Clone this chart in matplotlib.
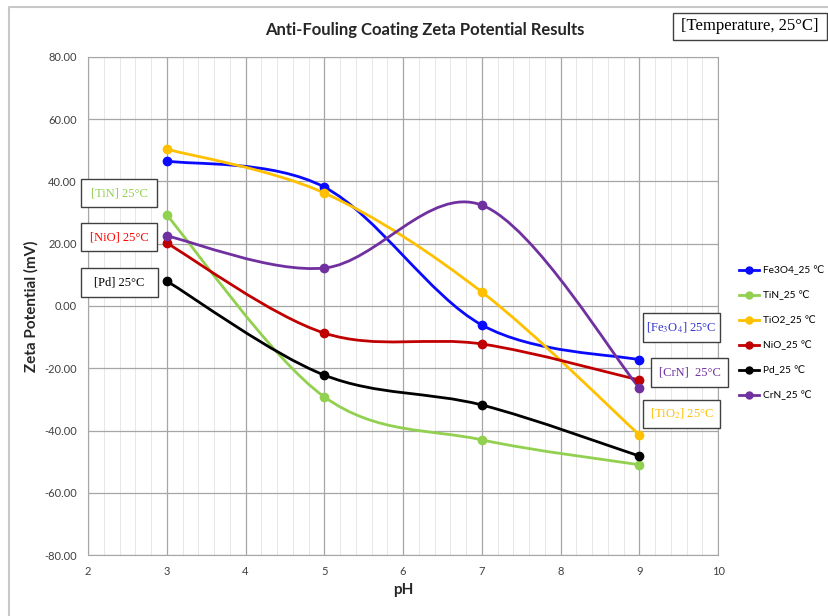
import matplotlib.pyplot as plt
import numpy as np
from matplotlib.path import Path
from matplotlib.patches import PathPatch, Rectangle
from matplotlib.lines import Line2D

# data
ph = [3, 5, 7, 9]
fe3o4 = [46.6, 38.2, -6.1, -17.3]
tin = [29.2, -29.2, -43.0, -51.0]
tio2 = [50.4, 36.3, 4.5, -41.4]
nio = [20.2, -8.7, -12.2, -23.8]
pd_ = [8.0, -22.2, -31.8, -48.2]
crn = [22.5, 12.2, 32.4, -26.3]

names = ['Fe3O4_25 ℃', 'TiN_25 ℃', 'TiO2_25 ℃', 'NiO_25 ℃', 'Pd_25 ℃', 'CrN_25 ℃']
series = [fe3o4, tin, tio2, nio, pd_, crn]
colors = ['#0a0aff', '#92d050', '#ffc000', '#c00000', '#000000', '#7030a0']


def smooth_path(x, y):
    # Excel-like smoothed line: cubic bezier through the points
    p = np.column_stack([x, y]).astype(float)
    n = len(p)
    verts = [p[0]]
    codes = [Path.MOVETO]
    for i in range(n - 1):
        p0 = p[i - 1] if i > 0 else p[i]
        p1 = p[i]
        p2 = p[i + 1]
        p3 = p[i + 2] if i + 2 < n else p[i + 1]
        c1 = p1 + (p2 - p0) / 6.0
        c2 = p2 - (p3 - p1) / 6.0
        verts += [c1, c2, p2]
        codes += [Path.CURVE4] * 3
    return Path(verts, codes)


plt.rcParams['font.family'] = ['Lato', 'DejaVu Sans']
plt.rcParams['mathtext.fontset'] = 'stix'

W, H = 829, 616
fig = plt.figure(figsize=(W / 100, H / 100), dpi=100)
ax = fig.add_axes([0.1062, 0.099, 0.76, 0.8085])

for vals, name, c in zip(series, names, colors):
    ax.add_patch(PathPatch(smooth_path(ph, vals), fill=False, edgecolor=c, lw=2, zorder=3))
    ax.plot(ph, vals, ls='none', marker='o', ms=6, color=c, zorder=4)
    ax.plot([], [], color=c, lw=2, marker='o', ms=5, label=name)

ax.set_xlim(2, 10)
ax.set_ylim(-80, 80)
ax.set_xticks(range(2, 11))
ax.set_xticks(np.arange(2, 10.01, 0.2), minor=True)
ax.set_yticks(range(-80, 81, 20))
ax.set_yticklabels(['%.2f' % v for v in range(-80, 81, 20)])
ax.grid(which='major', color='#a6a6a6', lw=0.9)
ax.grid(which='minor', axis='x', color='#e3e3e3', lw=0.6)
ax.tick_params(which='both', length=0, colors='#404040', labelsize=8, pad=8)
for s in ax.spines.values():
    s.set_color('#a6a6a6')

ax.set_xlabel('pH', fontsize=11, fontweight='bold', color='#262626')
ax.set_ylabel('Zeta Potential (mV)', fontsize=11, fontweight='bold', color='#262626')
fig.text(425 / W, 1 - 30 / H, 'Anti-Fouling Coating Zeta Potential Results', fontsize=12,
         fontweight='bold', color='#262626', ha='center', va='center')

fig.legend(loc='upper left', bbox_to_anchor=(0.886, 0.575), frameon=False,
           fontsize=7.3, handlelength=2.0, handletextpad=0.4, labelspacing=1.5,
           borderaxespad=0)

# outer chart border (only top and left edges fall inside the picture)
fig.lines.append(Line2D([9 / W, 9 / W, 1], [0, 1 - 7 / H, 1 - 7 / H],
                        transform=fig.transFigure, color='#c8c8c8', lw=1.5))

serif = ['Liberation Serif', 'DejaVu Serif']


def label_box(x0, y0, x1, y1, text, color, size=9):
    # box given in picture pixels from the top-left corner
    fig.patches.append(Rectangle((x0 / W, 1 - y1 / H), (x1 - x0) / W, (y1 - y0) / H,
                                 transform=fig.transFigure, fc='white', ec='#404040',
                                 lw=1, zorder=10))
    fig.text((x0 + x1) / 2 / W, 1 - (y0 + y1) / 2 / H, text, family=serif,
             fontsize=size, color=color, ha='center', va='center', zorder=11)


label_box(673, 13, 827, 40, '[Temperature, 25°C]', '#000000', size=12)
label_box(81, 179, 157, 207, '[TiN] 25°C', '#92d050')
label_box(81, 223, 157, 251, '[NiO] 25°C', '#ff0000')
label_box(81, 268, 158, 297, '[Pd] 25°C', '#000000')
label_box(643, 313, 720, 342, '[Fe$_3$O$_4$] 25°C', '#3333cc')
label_box(651, 358, 728, 387, '[CrN]  25°C', '#7030a0')
label_box(643, 400, 720, 428, '[TiO$_2$] 25°C', '#ffc000')

fig.savefig('out.png', dpi=100)
